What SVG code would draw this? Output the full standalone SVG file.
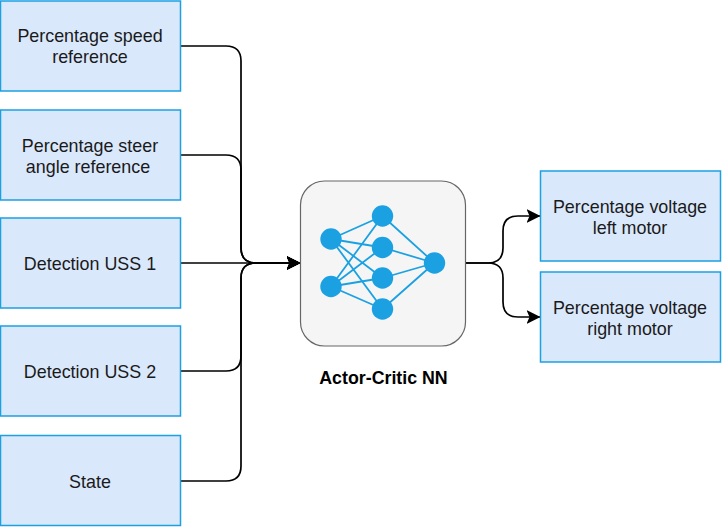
<svg xmlns="http://www.w3.org/2000/svg" width="722" height="527" viewBox="0 0 722 527">
<style>
text{font-family:"Liberation Sans",Arial,sans-serif;font-size:17.900px;fill:#1a1a1a;text-anchor:middle}
.b{fill:#dae8fc;stroke:#1ba1e2;stroke-width:1.5}
.c{fill:none;stroke:#000;stroke-width:1.700}
.n{stroke:#1ba1e2;stroke-width:1.800;fill:none}
.d{fill:#1ba1e2}
</style>
<defs><marker id="a" markerUnits="userSpaceOnUse" markerWidth="14" markerHeight="14" refX="14" refY="7" orient="auto"><path d="M0 0L14 7L0 14L3 7Z" fill="#000"/></marker></defs>
<rect width="722" height="527" fill="#fff"/>
<g id="connectors">
<path class="c" d="M181 46H226Q241 46 241 61V248Q241 263 256 263H300.500" marker-end="url(#a)"/>
<path class="c" d="M181 155H226Q241 155 241 170V248Q241 263 256 263H300.500" marker-end="url(#a)"/>
<path class="c" d="M181 263H300.500" marker-end="url(#a)"/>
<path class="c" d="M181 371H226Q241 371 241 356V278Q241 263 256 263H300.500" marker-end="url(#a)"/>
<path class="c" d="M181 481H226Q241 481 241 466V278Q241 263 256 263H300.500" marker-end="url(#a)"/>
<path class="c" d="M466 263H488Q503 263 503 248V231Q503 216 518 216H540.500" marker-end="url(#a)"/>
<path class="c" d="M466 263H488Q503 263 503 278V302Q503 317 518 317H540.500" marker-end="url(#a)"/>
</g>
<g id="n1"><rect class="b" x="0.500" y="1" width="180" height="90"/><text x="90" y="42">Percentage speed</text><text x="90" y="63">reference</text></g>
<g id="n2"><rect class="b" x="0.500" y="110" width="180" height="90"/><text x="90" y="152">Percentage steer</text><text x="88" y="173">angle reference</text></g>
<g id="n3"><rect class="b" x="0.500" y="218" width="180" height="90"/><text x="90" y="270">Detection USS 1</text></g>
<g id="n4"><rect class="b" x="0.500" y="326" width="180" height="90"/><text x="90" y="378">Detection USS 2</text></g>
<g id="n5"><rect class="b" x="0.500" y="435.500" width="180" height="90"/><text x="90" y="487.500">State</text></g>
<g id="nn">
<rect x="300.500" y="181" width="165" height="165" rx="24" fill="#f5f5f5" stroke="#666" stroke-width="1.200"/>
<path class="n" d="M331 239L382.500 216M331 239L382.500 247.500M331 239L382.500 278M331 239L382.500 309M331 286.500L382.500 216M331 286.500L382.500 247.500M331 286.500L382.500 278M331 286.500L382.500 309M382.500 216L434.500 263M382.500 247.500L434.500 263M382.500 278L434.500 263M382.500 309L434.500 263"/>
<circle class="d" cx="331" cy="239" r="10.700"/><circle class="d" cx="331" cy="286.500" r="10.700"/>
<circle class="d" cx="382.500" cy="216" r="10.700"/><circle class="d" cx="382.500" cy="247.500" r="10.700"/><circle class="d" cx="382.500" cy="278" r="10.700"/><circle class="d" cx="382.500" cy="309" r="10.700"/>
<circle class="d" cx="434.500" cy="263" r="10.700"/>
<text x="383.500" y="384" style="font-weight:bold;font-size:17.800px;fill:#000">Actor-Critic NN</text>
</g>
<g id="o1"><rect class="b" x="540.500" y="171" width="180" height="90"/><text x="630" y="213">Percentage voltage</text><text x="630" y="234">left motor</text></g>
<g id="o2"><rect class="b" x="540.500" y="272" width="180" height="90"/><text x="630" y="314">Percentage voltage</text><text x="630" y="335">right motor</text></g>
</svg>
